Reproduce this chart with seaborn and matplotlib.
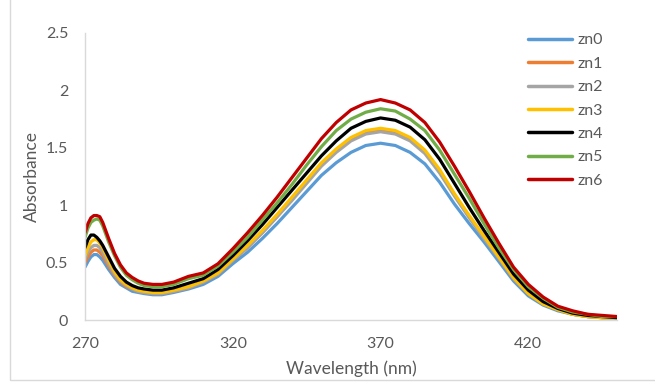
import matplotlib
matplotlib.use("Agg")
import matplotlib.pyplot as plt
import seaborn as sns
import pandas as pd
from matplotlib.patches import Rectangle

wavelength = [270, 271, 272, 273, 274, 275, 276, 278, 280, 282, 284, 286, 288, 290, 293, 296,
              300, 305, 310, 315, 320, 325, 330, 335, 340, 345, 350, 355, 360, 365, 370, 375,
              380, 385, 390, 395, 400, 405, 410, 415, 420, 425, 430, 435, 440, 445, 450]

zn0 = [0.46, 0.51, 0.55, 0.57, 0.57, 0.55, 0.52, 0.44, 0.37, 0.31, 0.28, 0.25, 0.24, 0.23, 0.22, 0.22,
       0.24, 0.27, 0.31, 0.38, 0.49, 0.59, 0.71, 0.84, 0.98, 1.12, 1.26, 1.37, 1.46, 1.52, 1.54, 1.52,
       1.46, 1.36, 1.20, 1.01, 0.84, 0.68, 0.51, 0.34, 0.21, 0.13, 0.08, 0.05, 0.03, 0.02, 0.02]
zn1 = [0.50, 0.55, 0.59, 0.61, 0.61, 0.59, 0.56, 0.47, 0.39, 0.33, 0.29, 0.27, 0.25, 0.24, 0.23, 0.23,
       0.25, 0.28, 0.33, 0.40, 0.52, 0.63, 0.76, 0.90, 1.05, 1.20, 1.35, 1.47, 1.57, 1.63, 1.65, 1.63,
       1.57, 1.46, 1.29, 1.09, 0.90, 0.72, 0.54, 0.36, 0.23, 0.14, 0.09, 0.05, 0.03, 0.02, 0.02]
zn2 = [0.53, 0.59, 0.63, 0.65, 0.65, 0.63, 0.59, 0.49, 0.40, 0.34, 0.30, 0.27, 0.25, 0.24, 0.23, 0.23,
       0.25, 0.28, 0.33, 0.40, 0.52, 0.63, 0.76, 0.90, 1.04, 1.19, 1.34, 1.46, 1.56, 1.62, 1.64, 1.62,
       1.56, 1.45, 1.28, 1.08, 0.89, 0.71, 0.54, 0.36, 0.23, 0.14, 0.09, 0.05, 0.03, 0.02, 0.02]
zn3 = [0.56, 0.63, 0.68, 0.70, 0.70, 0.67, 0.63, 0.52, 0.42, 0.35, 0.31, 0.28, 0.26, 0.25, 0.24, 0.24,
       0.26, 0.29, 0.34, 0.41, 0.53, 0.65, 0.78, 0.92, 1.07, 1.22, 1.37, 1.49, 1.59, 1.65, 1.67, 1.65,
       1.59, 1.48, 1.31, 1.10, 0.91, 0.73, 0.55, 0.37, 0.23, 0.14, 0.09, 0.05, 0.03, 0.02, 0.02]
zn4 = [0.63, 0.70, 0.74, 0.74, 0.72, 0.69, 0.65, 0.55, 0.45, 0.38, 0.33, 0.30, 0.28, 0.27, 0.26, 0.26,
       0.28, 0.32, 0.36, 0.44, 0.56, 0.69, 0.83, 0.98, 1.13, 1.28, 1.43, 1.56, 1.67, 1.73, 1.76, 1.74,
       1.68, 1.57, 1.40, 1.19, 0.98, 0.78, 0.59, 0.40, 0.26, 0.16, 0.10, 0.06, 0.04, 0.03, 0.02]
zn5 = [0.72, 0.80, 0.85, 0.87, 0.88, 0.87, 0.82, 0.68, 0.56, 0.46, 0.39, 0.35, 0.32, 0.30, 0.29, 0.29,
       0.31, 0.36, 0.39, 0.47, 0.59, 0.72, 0.87, 1.02, 1.18, 1.35, 1.51, 1.65, 1.75, 1.81, 1.84, 1.82,
       1.75, 1.65, 1.48, 1.27, 1.06, 0.84, 0.63, 0.44, 0.29, 0.19, 0.11, 0.07, 0.05, 0.03, 0.03]
zn6 = [0.76, 0.84, 0.89, 0.91, 0.91, 0.90, 0.85, 0.71, 0.58, 0.48, 0.41, 0.37, 0.34, 0.32, 0.31, 0.31,
       0.33, 0.38, 0.41, 0.49, 0.62, 0.76, 0.91, 1.07, 1.24, 1.41, 1.58, 1.72, 1.83, 1.89, 1.92, 1.89,
       1.83, 1.72, 1.55, 1.34, 1.12, 0.89, 0.67, 0.46, 0.31, 0.20, 0.12, 0.08, 0.05, 0.04, 0.03]

series_names = ["zn0", "zn1", "zn2", "zn3", "zn4", "zn5", "zn6"]
series_values = [zn0, zn1, zn2, zn3, zn4, zn5, zn6]
colors = ["#5B9BD5", "#ED7D31", "#A5A5A5", "#FFC000", "#000000", "#70AD47", "#C00000"]
x_ticks = [270, 320, 370, 420]
y_ticks = [0, 0.5, 1, 1.5, 2, 2.5]
y_tick_labels = ["0", "0.5", "1", "1.5", "2", "2.5"]

frames = []
for name, vals in zip(series_names, series_values):
    frames.append(pd.DataFrame({"Wavelength": wavelength, "Absorbance": vals, "series": name}))
df = pd.concat(frames, ignore_index=True)

sns.set_theme(style="white")
plt.rcParams["font.family"] = ["Lato", "DejaVu Sans"]

fig = plt.figure(figsize=(6.55, 3.82), dpi=100)
ax = fig.add_axes([85 / 655, 1 - 320 / 382, (617 - 85) / 655, (320 - 33) / 382])

sns.lineplot(data=df, x="Wavelength", y="Absorbance", hue="series",
             palette=dict(zip(series_names, colors)), linewidth=2.3, ax=ax, legend=True)

ax.set_xlim(270, 450)
ax.set_ylim(0, 2.5)
ax.set_xticks(x_ticks)
ax.set_xticklabels([str(t) for t in x_ticks])
ax.set_yticks(y_ticks)
ax.set_yticklabels(y_tick_labels)
ax.tick_params(axis="both", length=0, labelsize=11.5, colors="#595959")
ax.tick_params(axis="x", pad=12)
ax.tick_params(axis="y", pad=12)
for s in ["top", "right"]:
    ax.spines[s].set_visible(False)
for s in ["left", "bottom"]:
    ax.spines[s].set_color("#D9D9D9")
    ax.spines[s].set_linewidth(1.0)
ax.set_xlabel("Wavelength (nm)", fontsize=12.5, color="#595959", labelpad=7)
ax.set_ylabel("Absorbance", fontsize=12.5, color="#595959", labelpad=4)

leg = ax.legend(loc="upper right", bbox_to_anchor=(1.0, 1.05), frameon=False,
                fontsize=11.5, handlelength=2.7, handletextpad=0.35, labelspacing=0.58)
for t in leg.get_texts():
    t.set_color("#595959")
for h in leg.get_lines():
    h.set_linewidth(2.5)

fig.patches.append(Rectangle((10 / 655, 2 / 382), 1.0, 1.0, transform=fig.transFigure,
                             fill=False, edgecolor="#D9D9D9", linewidth=1.0))

fig.savefig("out.png", dpi=100)
